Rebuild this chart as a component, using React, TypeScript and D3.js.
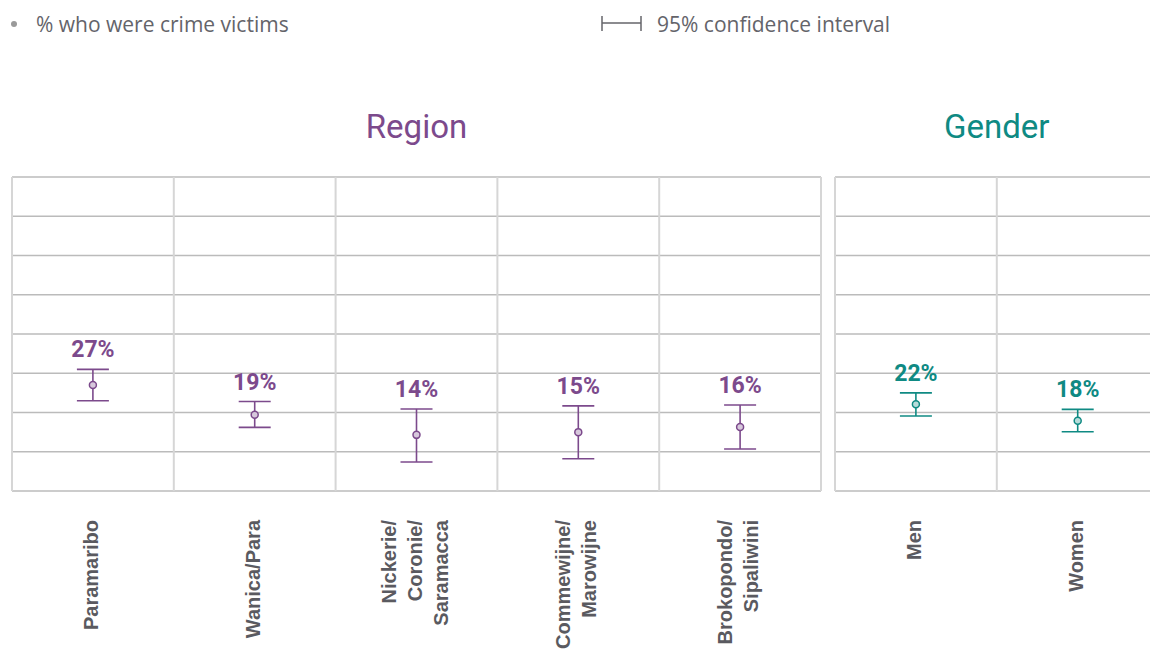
import React from "react";
import * as d3 from "d3";

const regionCategories = ["Paramaribo", "Wanica/Para", "Nickerie/\nCoronie/\nSaramacca", "Commewijne/\nMarowijne", "Brokopondo/\nSipaliwini"];
const regionValues = [27.0, 19.4, 14.3, 15.0, 16.3];
const regionLower = [23.0, 16.2, 7.4, 8.2, 10.7];
const regionUpper = [31.0, 22.8, 20.9, 21.7, 21.9];

const genderCategories = ["Men", "Women"];
const genderValues = [22.1, 17.9];
const genderLower = [19.1, 15.1];
const genderUpper = [25.0, 20.8];

const yTicks = [0, 10, 20, 30, 40, 50, 60, 70, 80];

const PURPLE = "#7c4a8c";
const TEAL = "#0f8a83";

const W = 1150;
const H = 650;
const plotTop = 177;
const plotBottom = 491;
const bandW = 161.8;

const y = d3.scaleLinear().domain([0, 80]).range([plotBottom, plotTop]);

type PanelProps = {
  title: string;
  color: string;
  cats: string[];
  vals: number[];
  lo: number[];
  hi: number[];
  x0: number;
};

function Panel({ title, color, cats, vals, lo, hi, x0 }: PanelProps) {
  const x = d3.scaleBand<string>().domain(cats).range([x0, x0 + bandW * cats.length]).padding(0);
  const x1 = x0 + bandW * cats.length;
  const cx = (c: string) => (x(c) as number) + x.bandwidth() / 2;
  const fmt = (v: number) => `${Math.round(v)}%`;
  const lineH = 26;
  return (
    <g>
      <text x={(x0 + x1) / 2} y={138} textAnchor="middle" fontFamily="Roboto" fontSize={33} fill={color}>
        {title}
      </text>
      {yTicks.map((t) => (
        <line key={"h" + t} x1={x0} x2={x1} y1={y(t)} y2={y(t)} stroke="#bbbbbb" strokeWidth={1.3} />
      ))}
      {cats.map((c) => (
        <line key={"v" + c} x1={x(c)} x2={x(c)} y1={plotTop} y2={plotBottom} stroke="#d6d6d6" strokeWidth={2} />
      ))}
      <line x1={x1} x2={x1} y1={plotTop} y2={plotBottom} stroke="#d6d6d6" strokeWidth={2} />
      {cats.map((c, i) => {
        const px = cx(c);
        return (
          <g key={"e" + c}>
            <line x1={px} x2={px} y1={y(hi[i])} y2={y(lo[i])} stroke={color} strokeWidth={1.6} />
            <line x1={px - 16} x2={px + 16} y1={y(hi[i])} y2={y(hi[i])} stroke={color} strokeWidth={1.6} />
            <line x1={px - 16} x2={px + 16} y1={y(lo[i])} y2={y(lo[i])} stroke={color} strokeWidth={1.6} />
            <circle cx={px} cy={y(vals[i])} r={3.5} fill="#ffffff" stroke={color} strokeWidth={1.5} />
            <circle cx={px} cy={y(vals[i])} r={3.5} fill={color} fillOpacity={0.3} />
            <text x={px} y={y(hi[i]) - 12} textAnchor="middle" fontFamily="Roboto" fontWeight="bold" fontSize={23} fill={color}>
              {fmt(vals[i])}
            </text>
          </g>
        );
      })}
      {cats.map((c) => {
        const lines = c.split("\n");
        const n = lines.length;
        return (
          <text
            key={"l" + c}
            transform={`translate(${cx(c)},520) rotate(-90)`}
            textAnchor="end"
            fontFamily="Liberation Sans"
            fontWeight="bold"
            fontSize={20}
            fill="#5a5a60"
          >
            {lines.map((ln, j) => (
              <tspan key={j} x={0} y={(j - (n - 1) / 2) * lineH + 5}>
                {ln}
              </tspan>
            ))}
          </text>
        );
      })}
    </g>
  );
}

export default function App() {
  return (
    <svg width={W} height={H} style={{ position: "absolute", left: 0, top: 0, background: "#ffffff" }}>
      <circle cx={14} cy={24} r={3} fill="#9a9a9a" />
      <text x={36} y={32} fontFamily="Open Sans" fontSize={21} fill="#64646a">
        % who were crime victims
      </text>
      <g stroke="#64646a" strokeWidth={1.5}>
        <line x1={602} x2={602} y1={16} y2={31} />
        <line x1={602} x2={641} y1={23} y2={23} />
        <line x1={641} x2={641} y1={16} y2={31} />
      </g>
      <text x={657} y={32} fontFamily="Open Sans" fontSize={21} fill="#64646a">
        95% confidence interval
      </text>
      <Panel title="Region" color={PURPLE} cats={regionCategories} vals={regionValues} lo={regionLower} hi={regionUpper} x0={12} />
      <Panel title="Gender" color={TEAL} cats={genderCategories} vals={genderValues} lo={genderLower} hi={genderUpper} x0={835} />
    </svg>
  );
}
